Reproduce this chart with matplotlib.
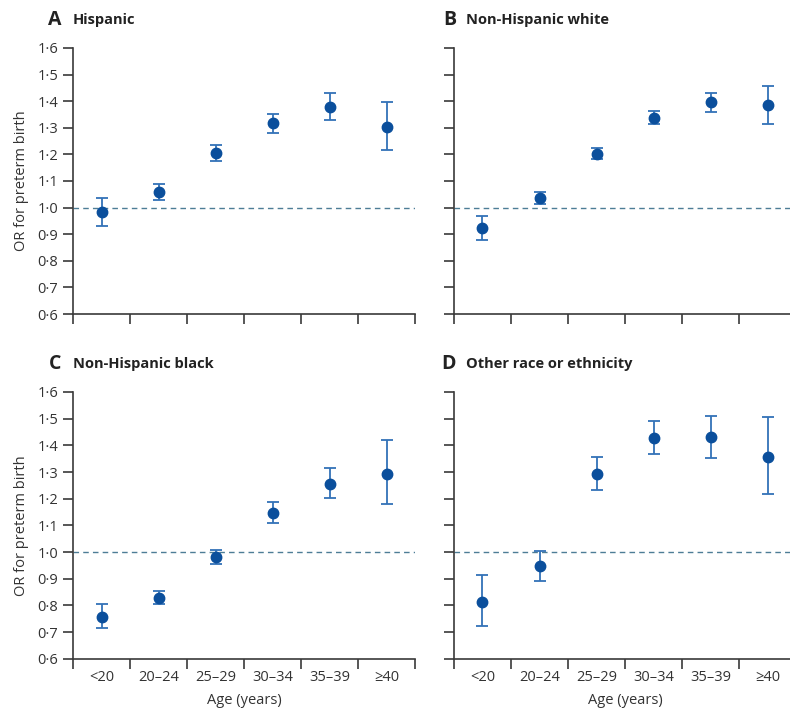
import matplotlib
matplotlib.use("Agg")
import matplotlib.pyplot as plt
import numpy as np

plt.rcParams['font.family'] = ['Open Sans', 'DejaVu Sans']

age_groups = ["<20", "20–24", "25–29", "30–34", "35–39", "≥40"]
y_ticks = [0.6, 0.7, 0.8, 0.9, 1.0, 1.1, 1.2, 1.3, 1.4, 1.5, 1.6]
y_tick_labels = ["0·6", "0·7", "0·8", "0·9", "1·0", "1·1", "1·2", "1·3", "1·4", "1·5", "1·6"]

panel_letters = ["A", "B", "C", "D"]
panel_titles = ["Hispanic", "Non-Hispanic white", "Non-Hispanic black", "Other race or ethnicity"]

hisp_or = [0.983, 1.059, 1.206, 1.317, 1.378, 1.303]
hisp_lo = [0.930, 1.030, 1.176, 1.281, 1.330, 1.218]
hisp_hi = [1.035, 1.089, 1.237, 1.353, 1.430, 1.396]

white_or = [0.923, 1.036, 1.203, 1.338, 1.396, 1.385]
white_lo = [0.879, 1.013, 1.182, 1.316, 1.361, 1.316]
white_hi = [0.970, 1.058, 1.223, 1.362, 1.431, 1.458]

black_or = [0.758, 0.829, 0.983, 1.148, 1.256, 1.293]
black_lo = [0.714, 0.805, 0.955, 1.110, 1.201, 1.181]
black_hi = [0.806, 0.854, 1.009, 1.186, 1.316, 1.419]

other_or = [0.813, 0.946, 1.291, 1.428, 1.430, 1.356]
other_lo = [0.723, 0.893, 1.234, 1.366, 1.354, 1.219]
other_hi = [0.915, 1.004, 1.355, 1.493, 1.510, 1.508]

series = [(hisp_or, hisp_lo, hisp_hi), (white_or, white_lo, white_hi),
          (black_or, black_lo, black_hi), (other_or, other_lo, other_hi)]

W, H = 790, 715
fig = plt.figure(figsize=(W / 100, H / 100), dpi=100)

# axes rectangles in pixels: (left, top, right, bottom)
rects = [(73, 48, 415, 314), (454, 48, 796, 314),
         (73, 392, 415, 658.7), (454, 392, 796, 658.7)]
# title positions in pixels: (letter x, title x, y)
title_pos = [(48, 73, 20), (443, 466, 20), (49, 73, 364), (441, 466, 364)]

marker_color = "#0b4f9c"
err_color = "#3372b8"
dash_color = "#4d7d96"
text_color = "#333333"
spine_color = "#3a3a3a"

for i, (l, t, r, b) in enumerate(rects):
    ax = fig.add_axes([l / W, 1 - b / H, (r - l) / W, (b - t) / H])
    ors, lo, hi = series[i]
    x = np.arange(len(age_groups)) + 0.5
    ors = np.array(ors); lo = np.array(lo); hi = np.array(hi)
    ax.axhline(1.0, color=dash_color, lw=1.0, ls=(0, (4, 3)), zorder=1)
    ax.errorbar(x, ors, yerr=[ors - lo, hi - ors], fmt='none', ecolor=err_color,
                elinewidth=1.3, capsize=4, capthick=1.3, zorder=2)
    ax.plot(x, ors, 'o', color=marker_color, ms=7.5, zorder=3)
    ax.set_xlim(0, len(age_groups))
    ax.set_ylim(0.6, 1.6)
    ax.set_yticks(y_ticks)
    ax.set_xticks(np.arange(len(age_groups) + 1))
    ax.set_xticklabels([])
    ax.set_xticks(x, minor=True)
    for s in ['top', 'right']:
        ax.spines[s].set_visible(False)
    for s in ['left', 'bottom']:
        ax.spines[s].set_color(spine_color)
        ax.spines[s].set_linewidth(1.2)
    ax.tick_params(axis='both', which='major', direction='out', length=7, width=1.2,
                   color=spine_color, labelcolor=text_color, labelsize=10.5)
    ax.tick_params(axis='x', which='minor', length=0, labelsize=10.5, labelcolor=text_color, pad=8)
    if i in (0, 2):
        ax.set_yticklabels(y_tick_labels)
        ax.set_ylabel("OR for preterm birth", fontsize=10.5, color=text_color, labelpad=6)
    else:
        ax.set_yticklabels([])
    if i in (2, 3):
        ax.set_xticklabels(age_groups, minor=True)
        ax.set_xlabel("Age (years)", fontsize=10.5, color=text_color, labelpad=6)
    lx, tx, ty = title_pos[i]
    fig.text(lx / W, 1 - ty / H, panel_letters[i], fontsize=14, fontweight='bold',
             color="#222222", va='center', ha='left')
    fig.text(tx / W, 1 - ty / H, panel_titles[i], fontsize=10.5, fontweight='bold',
             color="#222222", va='center', ha='left')

fig.savefig("out.png", dpi=100)
